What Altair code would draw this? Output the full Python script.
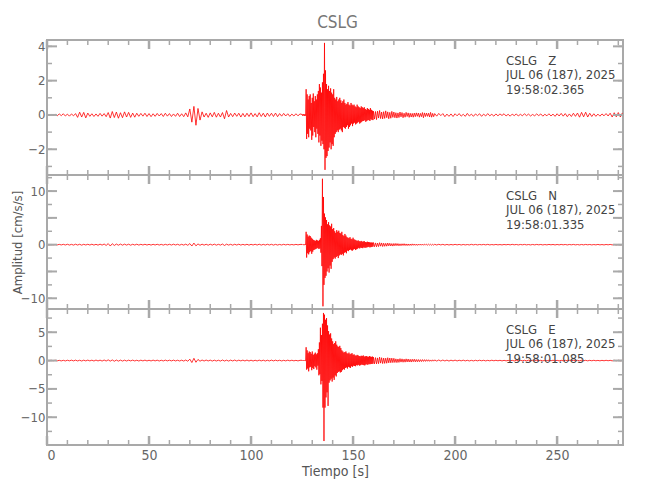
import altair as alt
import pandas as pd

# ---------------- data ----------------
# sampling grids (start, step): quiet 0..124 s every 1 s, burst 125..160 s every 0.25 s,
# coda 160.5..190 s every 0.5 s, tail 191..282 s every 1 s
GRID = [(0.0, 1.0), (125.0, 0.25), (160.5, 0.5), (191.0, 1.0)]

z_quiet = [0.02,-0.03,0.03,-0.02,0.04,
           -0.05,0.06,-0.04,0.07,-0.06,0.05,-0.07,0.06,-0.05,0.08,
           -0.14,0.16,-0.12,0.15,-0.17,0.11,
           -0.08,0.07,-0.09,0.06,-0.08,0.09,-0.07,0.08,-0.1,
           0.14,-0.18,0.2,-0.15,0.17,-0.19,0.13,-0.16,0.18,-0.12,0.15,-0.14,0.11,-0.13,0.1,
           -0.08,0.09,-0.07,0.1,-0.09,0.08,-0.1,0.07,-0.08,0.09,-0.06,0.08,-0.09,0.1,-0.07,0.08,-0.09,0.06,-0.08,0.1,-0.09,0.07,-0.1,0.12,-0.11,
           0.35,-0.42,0.5,-0.6,0.38,-0.3,0.18,
           -0.12,0.1,-0.14,0.12,-0.11,0.15,-0.13,0.1,-0.12,0.14,
           -0.22,0.26,-0.12,
           0.09,-0.1,0.11,-0.08,0.1,-0.12,0.09,-0.11,0.1,-0.09,0.12,-0.1,0.08,-0.11,0.13,-0.09,0.1,-0.12,0.11,-0.08,
           0.1,-0.09,0.11,-0.1,0.08,-0.07,0.09,-0.06,0.07,-0.08,0.05,-0.06,0.07,-0.05,0.06]
z_burst = [0.03,-0.04,0.05,-0.03,0.04,-0.05,0.03,-0.04,
           1.5,-1.4,1.2,-1.1, 0.9,-1.3,1.1,-0.8, 1.2,-0.9,0.7,-1.45, 1.0,-1.2,1.25,-0.7,
           0.8,-1.0,1.1,-1.3, 0.9,-0.8,1.2,-1.1, 1.4,-1.6,1.8,-1.2, 1.6,-1.8,1.3,-1.5,
           1.9,-1.7,2.4,-2.0, 4.2,-3.2,2.6,-2.5, 1.8,-2.4,1.5,-2.1, 1.7,-1.9,1.4,-1.6,
           1.55,-2.0,1.3,-1.7, 1.2,-1.8,1.5,-1.3, 1.0,-1.1,0.9,-1.0, 1.05,-0.9,0.8,-1.0,
           0.9,-0.85,1.0,-0.8, 0.85,-0.9,0.7,-1.0, 0.8,-0.7,0.9,-0.75, 0.7,-0.8,0.6,-0.7,
           0.65,-0.6,0.75,-0.8, 0.6,-0.7,0.55,-0.6, 0.7,-0.5,0.6,-0.65, 0.55,-0.5,0.6,-0.45,
           0.5,-0.55,0.45,-0.5, 0.6,-0.45,0.5,-0.4, 0.45,-0.5,0.4,-0.45, 0.5,-0.4,0.45,-0.35,
           0.4,-0.35,0.45,-0.3, 0.35,-0.4,0.3,-0.35, 0.4,-0.3,0.35,-0.3, 0.3,-0.35,0.4,-0.25,
           0.3,-0.28,0.25,-0.3, 0.22]
z_coda = [-0.24,0.2,-0.27,0.22,-0.18,0.26,-0.21,0.17,-0.23,0.19,
          -0.2,0.24,-0.16,0.18,-0.22,0.15,-0.19,0.21,-0.14,0.17,
          -0.16,0.13,-0.18,0.12,-0.15,0.17,-0.11,0.14,-0.16,0.1,
          -0.13,0.15,-0.09,0.12,-0.14,0.1,-0.12,0.09,-0.13,0.11,
          -0.1,0.12,-0.08,0.11,-0.13,0.09,-0.1,0.14,-0.16,0.12,
          -0.09,0.11,-0.08,0.1,-0.12,0.15,-0.13,0.09,-0.1,0.08]
z_tail = [-0.07,0.09,-0.04,0.08,-0.1,0.05,-0.08,0.06,-0.09,0.07,
          -0.05,0.08,-0.07,0.04,-0.08,0.09,-0.06,0.05,-0.08,0.06,
          -0.04,0.07,-0.08,0.05,-0.06,0.08,-0.05,0.04,-0.07,0.06,
          -0.05,0.06,-0.03,0.07,-0.06,0.04,-0.07,0.05,-0.04,0.06,
          -0.06,0.04,-0.05,0.07,-0.04,0.05,-0.06,0.03,-0.05,0.06,
          -0.04,0.06,-0.07,0.04,-0.05,0.07,-0.06,0.05,-0.08,0.07,
          -0.06,0.09,-0.07,0.08,-0.1,0.06,-0.09,0.1,-0.08,0.11,
          -0.13,0.15,-0.11,0.16,-0.12,0.1,-0.09,0.07,-0.08,0.05,
          -0.07,0.06,-0.05,0.08,-0.06,0.1,-0.12,0.13,-0.11,0.14,
          -0.12,0.12]

n_quiet = [0.02,-0.02,0.03,-0.03,0.04,-0.05,0.06,-0.05,0.07,-0.06,
           0.08,-0.07,0.06,-0.08,0.09,-0.07,0.08,-0.09,0.07,-0.06,
           0.08,-0.07,0.09,-0.08,0.07,-0.09,0.1,-0.08,0.12,-0.14,
           0.2,-0.25,0.18,-0.15,0.12,-0.1,0.11,-0.09,0.1,-0.08,
           0.09,-0.1,0.08,-0.07,0.09,-0.08,0.07,-0.06,0.08,-0.07,
           0.06,-0.08,0.07,-0.06,0.08,-0.07,0.06,-0.08,0.07,-0.06,
           0.08,-0.07,0.09,-0.06,0.08,-0.09,0.07,-0.08,0.1,-0.12,
           0.2,-0.25,0.3,-0.22,0.15,-0.12,0.1,-0.09,0.08,-0.1,
           0.09,-0.08,0.1,-0.09,0.07,-0.08,0.12,-0.15,0.1,-0.08,
           0.07,-0.09,0.08,-0.07,0.09,-0.08,0.06,-0.07,0.08,-0.09,
           0.07,-0.06,0.08,-0.07,0.09,-0.08,0.06,-0.07,0.08,-0.06,
           0.07,-0.08,0.06,-0.07,0.05,-0.06,0.07,-0.05,0.06,-0.05,
           0.04,-0.05,0.06,-0.04,0.05]
n_burst = [0.05,-0.06,0.04,-0.05,0.06,-0.04,0.05,-0.06,
           2.4,-2.4,1.9,-1.6, 1.5,-1.8,1.7,-1.4, 1.6,-1.2,1.3,-1.7, 1.1,-1.3,0.9,-1.0,
           0.8,-0.9,0.7,-0.8, 0.9,-0.7,0.8,-0.6, 0.7,-0.8,0.9,-0.7, 1.2,-1.5,3.5,-4.0,
           12.3,-11.5,8.9,-7.5, 5.8,-6.2,5.1,-5.8, 4.6,-5.0,3.8,-4.4, 4.2,-5.2,3.6,-3.9,
           3.4,-4.5,3.9,-3.2, 2.9,-2.7,3.1,-2.4, 2.5,-2.6,2.2,-2.3, 2.7,-2.1,2.4,-2.5,
           2.6,-2.0,2.2,-1.8, 2.1,-1.9,2.4,-1.7, 1.8,-2.0,1.6,-1.5, 2.0,-1.4,1.7,-1.6,
           1.4,-1.1,1.3,-1.2, 1.2,-1.0,1.4,-0.9, 1.1,-1.05,1.0,-1.1, 1.3,-0.9,1.0,-0.8,
           0.9,-1.0,0.8,-0.85, 0.7,-0.75,0.8,-0.6, 0.65,-0.7,0.6,-0.55, 0.7,-0.6,0.55,-0.65,
           0.6,-0.5,0.65,-0.55, 0.5,-0.55,0.45,-0.5, 0.55,-0.45,0.5,-0.4, 0.45,-0.5,0.4,-0.45,
           0.4,-0.42,0.38,-0.35, 0.4]
n_coda = [-0.38,0.33,-0.4,0.3,-0.35,0.37,-0.28,0.32,-0.34,0.27,
          -0.3,0.25,-0.28,0.3,-0.22,0.26,-0.24,0.2,-0.26,0.22,
          -0.2,0.23,-0.18,0.2,-0.21,0.16,-0.19,0.17,-0.15,0.18,
          -0.16,0.14,-0.17,0.13,-0.15,0.12,-0.14,0.15,-0.11,0.13,
          -0.12,0.1,-0.13,0.11,-0.09,0.12,-0.1,0.11,-0.08,0.1,
          -0.09,0.1,-0.08,0.09,-0.07,0.08,-0.09,0.07,-0.08,0.07]
n_tail = [-0.06,0.07,-0.05,0.06,-0.07,0.05,-0.06,0.04,-0.05,0.06,
          -0.04,0.05,-0.06,0.04,-0.05,0.03,-0.05,0.06,-0.04,0.05,
          -0.05,0.04,-0.03,0.05,-0.04,0.06,-0.05,0.03,-0.04,0.05,
          -0.04,0.03,-0.05,0.04,-0.03,0.05,-0.04,0.06,-0.03,0.04,
          -0.05,0.04,-0.03,0.05,-0.04,0.03,-0.05,0.04,-0.04,0.05,
          -0.03,0.04,-0.05,0.03,-0.04,0.05,-0.03,0.04,-0.05,0.04,
          -0.04,0.05,-0.03,0.04,-0.05,0.04,-0.03,0.05,-0.04,0.03,
          -0.05,0.04,-0.04,0.05,-0.03,0.04,-0.05,0.03,-0.04,0.05,
          -0.04,0.03,-0.05,0.04,-0.03,0.05,-0.04,0.04,-0.05,0.03,
          -0.04,0.04]

e_quiet = [0.03,-0.04,0.05,-0.04,0.06,-0.05,0.04,-0.06,0.05,-0.07,
           0.06,-0.05,0.07,-0.06,0.08,-0.07,0.06,-0.08,0.07,-0.06,
           0.08,-0.06,0.07,-0.08,0.09,-0.07,0.08,-0.09,0.1,-0.08,
           0.12,-0.1,0.11,-0.12,0.09,-0.1,0.08,-0.09,0.07,-0.08,
           0.07,-0.06,0.08,-0.07,0.06,-0.08,0.07,-0.06,0.08,-0.07,
           0.06,-0.07,0.08,-0.06,0.07,-0.08,0.06,-0.07,0.08,-0.06,
           0.07,-0.06,0.08,-0.07,0.06,-0.08,0.07,-0.09,0.1,-0.12,
           0.25,-0.35,0.4,-0.3,0.2,-0.12,0.1,-0.08,0.09,-0.07,
           0.08,-0.09,0.07,-0.08,0.06,-0.09,0.1,-0.08,0.07,-0.09,
           0.08,-0.07,0.09,-0.08,0.07,-0.06,0.08,-0.07,0.09,-0.08,
           0.07,-0.08,0.06,-0.07,0.08,-0.06,0.07,-0.08,0.06,-0.07,
           0.08,-0.06,0.07,-0.05,0.06,-0.07,0.05,-0.06,0.07,-0.05,
           0.06,-0.05,0.04,-0.06,0.05]
e_burst = [0.05,-0.04,0.06,-0.05,0.04,-0.06,0.05,-0.04,
           2.35,-1.6,1.8,-1.4, 1.3,-1.9,1.6,-1.2, 1.5,-1.1,1.2,-1.7, 1.6,-1.3,1.0,-1.5,
           1.2,-1.0,1.4,-1.2, 1.1,-1.6,1.3,-0.9, 2.0,-2.6,3.2,-2.4, 5.8,-4.2,4.5,-3.6,
           6.5,-8.3,8.4,-14.2, 8.1,-8.3,7.2,-6.5, 7.5,-5.6,6.2,-8.0, 5.2,-3.9,4.6,-3.5,
           4.8,-3.2,3.9,-3.7, 3.4,-3.0,2.9,-3.4, 3.1,-2.6,3.4,-2.8, 2.8,-2.2,2.5,-2.0,
           2.4,-1.9,2.6,-2.1, 2.2,-2.0,1.8,-1.7, 1.6,-1.5,1.4,-1.6, 1.5,-1.3,1.6,-1.2,
           1.3,-1.4,1.2,-1.1, 1.4,-1.2,1.1,-1.3, 1.2,-1.0,1.3,-1.1, 1.0,-0.9,1.1,-0.95,
           0.9,-1.0,0.85,-0.8, 1.0,-0.85,0.9,-0.75, 0.8,-0.9,0.75,-0.8, 0.85,-0.7,0.8,-0.75,
           0.9,-0.8,0.7,-0.85, 0.75,-0.7,0.8,-0.65, 0.7,-0.75,0.65,-0.6, 0.8,-0.65,0.7,-0.6,
           0.65,-0.6,0.7,-0.55, 0.6]
e_coda = [-0.58,0.52,-0.6,0.47,-0.55,0.6,-0.45,0.5,-0.53,0.44,
          -0.5,0.42,-0.47,0.5,-0.4,0.45,-0.38,0.43,-0.36,0.4,
          -0.34,0.3,-0.36,0.28,-0.32,0.34,-0.27,0.3,-0.29,0.25,
          -0.28,0.3,-0.24,0.27,-0.25,0.22,-0.26,0.23,-0.2,0.24,
          -0.22,0.19,-0.21,0.18,-0.2,0.16,-0.18,0.17,-0.15,0.16,
          -0.14,0.15,-0.12,0.14,-0.13,0.11,-0.12,0.13,-0.1,0.11]
e_tail = [-0.09,0.1,-0.08,0.09,-0.07,0.08,-0.09,0.07,-0.06,0.08,
          -0.07,0.06,-0.05,0.07,-0.06,0.05,-0.07,0.04,-0.06,0.05,
          -0.05,0.06,-0.04,0.05,-0.06,0.04,-0.05,0.06,-0.04,0.05,
          -0.04,0.05,-0.06,0.04,-0.05,0.03,-0.05,0.04,-0.06,0.05,
          -0.05,0.04,-0.03,0.05,-0.04,0.06,-0.05,0.04,-0.04,0.05,
          -0.04,0.05,-0.05,0.03,-0.04,0.05,-0.04,0.06,-0.05,0.04,
          -0.05,0.04,-0.04,0.05,-0.03,0.05,-0.04,0.04,-0.05,0.04,
          -0.04,0.05,-0.03,0.04,-0.05,0.04,-0.04,0.05,-0.04,0.03,
          -0.05,0.04,-0.04,0.05,-0.03,0.04,-0.05,0.04,-0.04,0.05,
          -0.04,0.05]

components = ["Z", "N", "E"]
times = ["19:58:02.365", "19:58:01.335", "19:58:01.085"]
date_label = "JUL 06 (187), 2025"
station = "CSLG"

y_domains = [[-3.5, 4.37], [-12.0, 13.0], [-14.9, 9.1]]
y_major = [[-2, 0, 2, 4], [-10, -5, 0, 5, 10], [-10, -5, 0, 5]]
y_minor = [[-3, -2, -1, 0, 1, 2, 3, 4],
           [-10, -7.5, -5, -2.5, 0, 2.5, 5, 7.5, 10, 12.5],
           [-12.5, -10, -7.5, -5, -2.5, 0, 2.5, 5, 7.5]]
x_major = [0, 50, 100, 150, 200, 250]
x_minor = list(range(0, 290, 10))
X_DOMAIN = [0, 282.3]

# ---------------- styling ----------------
FONT = "Liberation Sans Narrow, DejaVu Sans Condensed, sans-serif"
FRAME = "#a9a9a9"
LABEL = "#666666"
W = 576
HEIGHTS = [135, 134, 136]


def trace_df(*segments):
    t, v = [], []
    for (t0, dt), vals in zip(GRID, segments):
        for i, val in enumerate(vals):
            t.append(t0 + dt * i)
            v.append(val)
    return pd.DataFrame({"t": t, "v": v})


traces = [trace_df(z_quiet, z_burst, z_coda, z_tail),
          trace_df(n_quiet, n_burst, n_coda, n_tail),
          trace_df(e_quiet, e_burst, e_coda, e_tail)]


def panel(i):
    H = HEIGHTS[i]
    xs = alt.Scale(domain=X_DOMAIN, nice=False, zero=False)
    ys = alt.Scale(domain=y_domains[i], nice=False, zero=False)
    if i == 2:
        xaxis = alt.Axis(values=x_major, ticks=False, domain=False, grid=False,
                         labelFont=FONT, labelFontSize=14, labelColor=LABEL, labelPadding=3,
                         title="Tiempo [s]", titleFont=FONT, titleFontSize=14,
                         titleFontWeight="normal", titleColor="#555555", titlePadding=2)
    else:
        xaxis = alt.Axis(labels=False, ticks=False, domain=False, grid=False, title=None,
                         minExtent=0, maxExtent=0)
    yaxis = alt.Axis(values=y_major[i], ticks=False, domain=False, grid=False,
                     labelFont=FONT, labelFontSize=13, labelColor=LABEL, labelPadding=2,
                     title="Amplitud [cm/s/s]" if i == 1 else None,
                     titleFont=FONT, titleFontSize=13, titleFontWeight="normal",
                     titleColor="#555555", titlePadding=3, minExtent=20, maxExtent=20)

    line = alt.Chart(traces[i]).mark_line(color="#ff0000", strokeWidth=0.8, clip=True).encode(
        x=alt.X("t:Q", scale=xs, axis=xaxis),
        y=alt.Y("v:Q", scale=ys, axis=yaxis),
        order="t:Q",
    )

    def ytick(vals, x0, x1, sw):
        return alt.Chart(pd.DataFrame({"v": vals})).mark_rule(color=FRAME, strokeWidth=sw).encode(
            y=alt.Y("v:Q", scale=ys), x=alt.value(x0), x2=alt.value(x1))

    def xtick(vals, y0, y1, sw):
        return alt.Chart(pd.DataFrame({"t": vals})).mark_rule(color=FRAME, strokeWidth=sw).encode(
            x=alt.X("t:Q", scale=xs), y=alt.value(y0), y2=alt.value(y1))

    ticks = [
        ytick(y_minor[i], 0, 5, 1.5), ytick(y_major[i], 0, 10, 2),
        ytick(y_minor[i], W, W - 5, 1.5), ytick(y_major[i], W, W - 10, 2),
        xtick(x_minor, 0, 5, 1.5), xtick(x_major, 0, 9, 2.5),
        xtick(x_minor, H, H - 5, 1.5), xtick(x_major, H, H - 9, 2.5),
    ]

    label = f"{station}\u00a0\u00a0\u00a0{components[i]}\n{date_label}\n{times[i]}"
    txt = alt.Chart(pd.DataFrame({"txt": [label]})).mark_text(
        align="left", baseline="top", font=FONT, fontSize=13, color="#444444",
        lineBreak="\n", lineHeight=14.3,
    ).encode(x=alt.value(459), y=alt.value(15), text="txt:N")

    return alt.layer(line, *ticks, txt).properties(width=W, height=H)


chart = alt.vconcat(panel(0), panel(1), panel(2), spacing=0, bounds="flush").properties(
    title=alt.TitleParams(station, font=FONT, fontSize=17, fontWeight="normal",
                          color="#777777", anchor="middle", offset=6, dx=20),
    padding={"left": 2, "top": 5, "right": 5, "bottom": 5},
).configure_view(stroke=FRAME, strokeWidth=2)

chart.save("out.html", embed_options={"renderer": "svg", "actions": False})
